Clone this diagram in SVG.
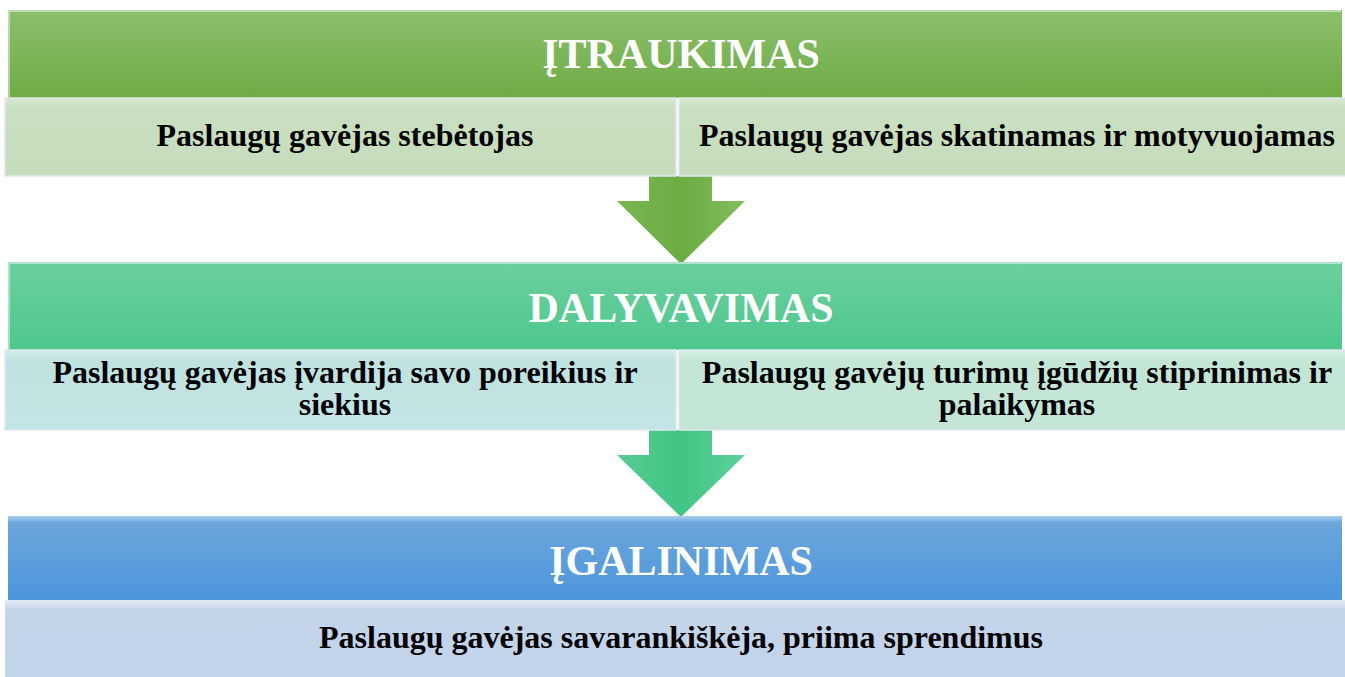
<svg xmlns="http://www.w3.org/2000/svg" width="1345" height="677" viewBox="0 0 1345 677">
<style>
.hdr{font-family:"Liberation Serif","Times New Roman",serif;font-weight:bold;font-size:42px;fill:#ffffff;text-anchor:middle}
.sub{font-family:"Liberation Serif","Times New Roman",serif;font-weight:bold;font-size:32px;fill:#000000;text-anchor:middle}
.edge{fill:none;stroke:#ffffff;stroke-opacity:0.45;stroke-width:2}
</style>
<defs>
<linearGradient id="gG" x1="0" y1="0" x2="0" y2="1"><stop offset="0" stop-color="#8cbf6c"/><stop offset="1" stop-color="#6eac45"/></linearGradient>
<linearGradient id="gT" x1="0" y1="0" x2="0" y2="1"><stop offset="0" stop-color="#6dcf9f"/><stop offset="1" stop-color="#4cc88d"/></linearGradient>
<linearGradient id="gB" x1="0" y1="0" x2="0" y2="1"><stop offset="0" stop-color="#a8d0f2"/><stop offset="0.08" stop-color="#6ca6dc"/><stop offset="1" stop-color="#4c96dc"/></linearGradient>
<linearGradient id="sG" x1="0" y1="0" x2="0" y2="1"><stop offset="0" stop-color="#d6e8cf"/><stop offset="0.15" stop-color="#c9dfc1"/><stop offset="1" stop-color="#c6ddbc"/></linearGradient>
<linearGradient id="sT1" x1="0" y1="0" x2="0" y2="1"><stop offset="0" stop-color="#d4eeec"/><stop offset="0.15" stop-color="#bfe2df"/><stop offset="1" stop-color="#c4e5e6"/></linearGradient>
<linearGradient id="sT2" x1="0" y1="0" x2="0" y2="1"><stop offset="0" stop-color="#d6efe5"/><stop offset="0.15" stop-color="#c3e6d6"/><stop offset="1" stop-color="#c2e5d6"/></linearGradient>
<linearGradient id="sB" x1="0" y1="0" x2="0" y2="1"><stop offset="0" stop-color="#e2eaf4"/><stop offset="0.12" stop-color="#c4d5ea"/><stop offset="1" stop-color="#c2d4ea"/></linearGradient>
<linearGradient id="aG" x1="0" y1="0" x2="1" y2="0"><stop offset="0" stop-color="#7ab653"/><stop offset="0.5" stop-color="#6cad43"/><stop offset="1" stop-color="#82bd5c"/></linearGradient>
<linearGradient id="aT" x1="0" y1="0" x2="1" y2="0"><stop offset="0" stop-color="#58cc92"/><stop offset="0.5" stop-color="#40c585"/><stop offset="1" stop-color="#5fd199"/></linearGradient>
</defs>

<g id="connectors">
<path d="M649,176 H712 V201 H745 L681,264 L617,201 H649 Z" fill="url(#aG)"/>
<path d="M649,430 H712 V455 H745 L681,517 L617,455 H649 Z" fill="url(#aT)"/>
</g>

<g id="itraukimas">
<rect x="8" y="10" width="1334" height="88" fill="url(#gG)"/>
<path class="edge" d="M9,97 V11 H1341"/>
<text class="hdr" x="681" y="68">ĮTRAUKIMAS</text>
</g>
<g id="itraukimas-1">
<rect x="5" y="98" width="671" height="78" fill="url(#sG)" stroke="#dfe8ee" stroke-width="1.5"/>
<text class="sub" x="345" y="146">Paslaugų gavėjas stebėtojas</text>
</g>
<g id="itraukimas-2">
<rect x="679" y="98" width="668" height="78" fill="url(#sG)" stroke="#dfe8ee" stroke-width="1.5"/>
<text class="sub" x="1017" y="146">Paslaugų gavėjas skatinamas ir motyvuojamas</text>
</g>

<g id="dalyvavimas">
<rect x="8" y="262" width="1334" height="88" fill="url(#gT)"/>
<path class="edge" d="M9,349 V263 H1341"/>
<text class="hdr" x="681" y="322">DALYVAVIMAS</text>
</g>
<g id="dalyvavimas-1">
<rect x="5" y="350" width="671" height="80" fill="url(#sT1)" stroke="#dfe8ee" stroke-width="1.5"/>
<text class="sub" x="345" y="383"><tspan x="345">Paslaugų gavėjas įvardija savo poreikius ir</tspan><tspan x="345" dy="32">siekius</tspan></text>
</g>
<g id="dalyvavimas-2">
<rect x="679" y="350" width="668" height="80" fill="url(#sT2)" stroke="#dfe8ee" stroke-width="1.5"/>
<text class="sub" x="1017" y="383"><tspan x="1017">Paslaugų gavėjų turimų įgūdžių stiprinimas ir</tspan><tspan x="1017" dy="32">palaikymas</tspan></text>
</g>

<g id="igalinimas">
<rect x="8" y="516" width="1334" height="84" fill="url(#gB)"/>
<text class="hdr" x="681" y="575">ĮGALINIMAS</text>
</g>
<g id="igalinimas-1">
<rect x="5" y="600" width="1342" height="79" fill="url(#sB)"/>
<text class="sub" x="681" y="648">Paslaugų gavėjas savarankiškėja, priima sprendimus</text>
</g>
</svg>
